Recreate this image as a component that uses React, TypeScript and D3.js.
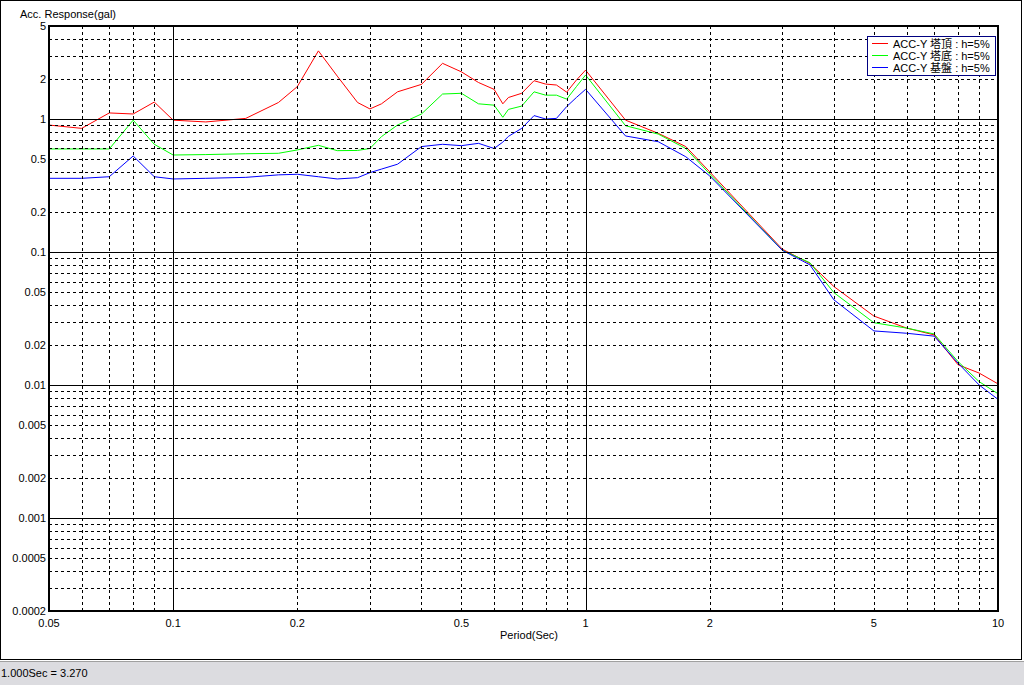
import { useEffect, useRef } from "react"
import * as d3 from "d3"

// periods (sec) shared by all three spectra
const periods = [
  0.05, 0.06, 0.07, 0.08, 0.09, 0.1, 0.12, 0.15, 0.18, 0.2, 0.225, 0.25, 0.28, 0.3, 0.32, 0.35,
  0.4, 0.45, 0.5, 0.55, 0.6, 0.63, 0.65, 0.7, 0.75, 0.8, 0.85, 0.9, 0.95, 1.0, 1.25, 1.5, 1.75,
  2.0, 3.0, 3.5, 4.0, 5.0, 6.0, 7.0, 8.0, 9.0, 10.0,
]

// ACC-Y 塔頂
const accTop = [
  0.9, 0.85, 1.11, 1.09, 1.34, 0.98, 0.95, 1.01, 1.33, 1.75, 3.25, 2.1, 1.33, 1.19, 1.3, 1.6,
  1.82, 2.62, 2.26, 1.88, 1.67, 1.3, 1.45, 1.56, 1.94, 1.83, 1.8, 1.59, 1.96, 2.33, 0.98, 0.78, 0.62,
  0.4, 0.105, 0.082, 0.055, 0.033, 0.0268, 0.0238, 0.0142, 0.0123, 0.0102,
]

// ACC-Y 塔底
const accBase = [
  0.595, 0.595, 0.595, 0.98, 0.645, 0.536, 0.54, 0.548, 0.552, 0.585, 0.634, 0.578, 0.58, 0.6, 0.737, 0.9,
  1.09, 1.54, 1.56, 1.3, 1.27, 1.03, 1.18, 1.25, 1.6, 1.51, 1.51, 1.41, 1.75, 2.14, 0.89, 0.77, 0.6,
  0.386, 0.103, 0.083, 0.0495, 0.0294, 0.0268, 0.0242, 0.015, 0.0106, 0.0086,
]

// ACC-Y 基盤
const accGround = [
  0.358, 0.358, 0.368, 0.527, 0.368, 0.354, 0.358, 0.364, 0.38, 0.384, 0.368, 0.354, 0.362, 0.395, 0.42, 0.457,
  0.62, 0.645, 0.63, 0.656, 0.6, 0.67, 0.74, 0.85, 1.06, 1.0, 1.01, 1.24, 1.45, 1.67, 0.745, 0.675, 0.52,
  0.373, 0.103, 0.08, 0.0437, 0.0255, 0.0245, 0.0233, 0.0146, 0.01, 0.0078,
]

const seriesNames = ["ACC-Y 塔頂 : h=5%", "ACC-Y 塔底 : h=5%", "ACC-Y 基盤 : h=5%"]
const seriesColors = ["#ff0000", "#00ff00", "#0000ff"]

const xTickValues = [0.05, 0.1, 0.2, 0.5, 1, 2, 5, 10]
const xTickLabels = ["0.05", "0.1", "0.2", "0.5", "1", "2", "5", "10"]
const yTickValues = [5, 2, 1, 0.5, 0.2, 0.1, 0.05, 0.02, 0.01, 0.005, 0.002, 0.001, 0.0005, 0.0002]
const yTickLabels = ["5", "2", "1", "0.5", "0.2", "0.1", "0.05", "0.02", "0.01", "0.005", "0.002", "0.001", "0.0005", "0.0002"]

const statusText = "1.000Sec = 3.270"

const W = 1024
const H = 685
const FONT = "'Liberation Sans', Arial, 'Noto Sans CJK JP', sans-serif"

export default function App() {
  const svgRef = useRef<SVGSVGElement>(null)

  useEffect(() => {
    document.body.style.margin = "0"
    const svg = d3.select(svgRef.current)
    svg.selectAll("*").remove()

    const x = d3.scaleLog().domain([0.05, 10]).range([49, 998])
    const y = d3.scaleLog().domain([0.0002, 5]).range([611, 26])
    const [x0, x1] = x.range()
    const [y0, y1] = y.range()

    // window background + frame
    svg.append("rect").attr("width", W).attr("height", H).attr("fill", "#ffffff")
    svg.append("rect")
      .attr("x", 0.5).attr("y", 0.5).attr("width", 1021).attr("height", 659)
      .attr("fill", "none").attr("stroke", "#000").attr("shape-rendering", "crispEdges")

    // status bar
    svg.append("rect").attr("x", 0).attr("y", 661).attr("width", W).attr("height", H - 661)
      .attr("fill", "#dcdce0")
    svg.append("line").attr("x1", 0).attr("x2", W).attr("y1", 661.5).attr("y2", 661.5)
      .attr("stroke", "#a0a0a0")
    svg.append("text").attr("x", 1).attr("y", 677)
      .attr("font-family", FONT).attr("font-size", 11).attr("fill", "#000")
      .text(statusText)

    // curves
    const line = d3.line<[number, number]>()
      .x((d) => x(d[0]))
      .y((d) => y(d[1]))
    const allSeries = [accTop, accBase, accGround]
    const gCurves = svg.append("g")
    allSeries.forEach((vals, i) => {
      const pts = periods.map((p, j) => [p, vals[j]] as [number, number])
      gCurves.append("path")
        .attr("d", line(pts))
        .attr("fill", "none")
        .attr("stroke", seriesColors[i])
        .attr("stroke-width", 1)
    })

    // grid
    const gGrid = svg.append("g").attr("shape-rendering", "crispEdges")
    const xMinor: number[] = []
    const yMinor: number[] = []
    ;[0.01, 0.1, 1].forEach((d) => d3.range(2, 10).forEach((k) => {
      const v = d * k
      if (v > 0.05 && v < 10) xMinor.push(v)
    }))
    ;[0.0001, 0.001, 0.01, 0.1, 1].forEach((d) => d3.range(2, 10).forEach((k) => {
      const v = d * k
      if (v > 0.0002 && v < 5) yMinor.push(v)
    }))
    gGrid.selectAll("line.xm").data(xMinor).join("line")
      .attr("x1", (d) => Math.round(x(d)) + 0.5).attr("x2", (d) => Math.round(x(d)) + 0.5)
      .attr("y1", y1).attr("y2", y0)
      .attr("stroke", "#000").attr("stroke-dasharray", "3,3")
    gGrid.selectAll("line.ym").data(yMinor).join("line")
      .attr("y1", (d) => Math.round(y(d)) + 0.5).attr("y2", (d) => Math.round(y(d)) + 0.5)
      .attr("x1", x0).attr("x2", x1)
      .attr("stroke", "#000").attr("stroke-dasharray", "3,3")
    gGrid.selectAll("line.xd").data([0.1, 1]).join("line")
      .attr("x1", (d) => Math.round(x(d)) + 0.5).attr("x2", (d) => Math.round(x(d)) + 0.5)
      .attr("y1", y1).attr("y2", y0)
      .attr("stroke", "#000")
    gGrid.selectAll("line.yd").data([0.001, 0.01, 0.1, 1]).join("line")
      .attr("y1", (d) => Math.round(y(d)) + 0.5).attr("y2", (d) => Math.round(y(d)) + 0.5)
      .attr("x1", x0).attr("x2", x1)
      .attr("stroke", "#000")

    // plot border
    svg.append("rect")
      .attr("x", x0).attr("y", y1).attr("width", x1 - x0).attr("height", y0 - y1)
      .attr("fill", "none").attr("stroke", "#000").attr("stroke-width", 2)
      .attr("shape-rendering", "crispEdges")

    // tick labels
    const gLab = svg.append("g").attr("font-family", FONT).attr("font-size", 11).attr("fill", "#000")
    gLab.selectAll("text.yl").data(yTickValues).join("text")
      .attr("x", x0 - 3).attr("y", (d) => y(d) + 4)
      .attr("text-anchor", "end")
      .text((_, i) => yTickLabels[i])
    gLab.selectAll("text.xl").data(xTickValues).join("text")
      .attr("x", (d) => x(d)).attr("y", 627)
      .attr("text-anchor", "middle")
      .text((_, i) => xTickLabels[i])
    gLab.append("text").attr("x", 20).attr("y", 18).text("Acc. Response(gal)")
    gLab.append("text").attr("x", 529).attr("y", 639).attr("text-anchor", "middle").text("Period(Sec)")

    // legend
    const lg = svg.append("g").attr("transform", "translate(867,36)")
    lg.append("rect").attr("x", 0.5).attr("y", 0.5).attr("width", 128).attr("height", 39)
      .attr("fill", "#fff").attr("stroke", "#000080").attr("shape-rendering", "crispEdges")
    seriesNames.forEach((name, i) => {
      const cy = 7.5 + i * 12
      lg.append("line").attr("x1", 5).attr("x2", 21).attr("y1", cy).attr("y2", cy)
        .attr("stroke", seriesColors[i]).attr("shape-rendering", "crispEdges")
      lg.append("text").attr("x", 26).attr("y", cy + 4)
        .attr("font-family", FONT).attr("font-size", 11).attr("fill", "#000")
        .text(name)
    })
  }, [])

  return (
    <div style={{ position: "absolute", left: 0, top: 0 }}>
      <svg ref={svgRef} width={W} height={H} style={{ display: "block" }} />
    </div>
  )
}
